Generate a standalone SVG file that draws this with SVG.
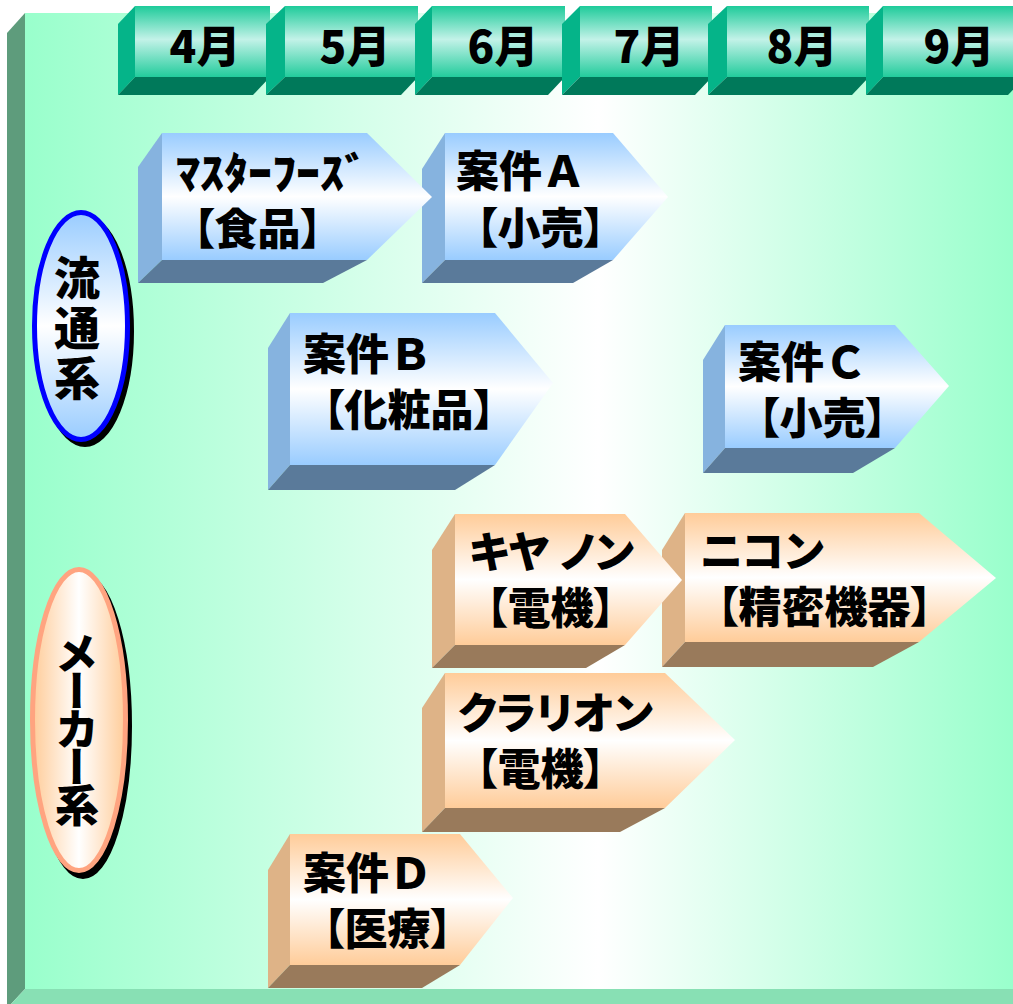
<svg xmlns="http://www.w3.org/2000/svg" width="1013" height="1004" viewBox="0 0 1013 1004">
<defs>
<style>
.t{font-family:"Noto Sans CJK JP","Noto Sans CJK SC",sans-serif;font-weight:900;fill:#000;font-size:43px}
.p{font-feature-settings:"palt"}
.m{font-size:44px;text-anchor:middle}
.hf{fill:url(#gHead)}
.hl{fill:#05b489}
.hb{fill:#00795a}
.bf{fill:url(#gBlue)}
.bl{fill:#86b3df}
.bb{fill:#5a7a9a}
.of{fill:url(#gOrange)}
.ol{fill:#deb387}
.ob{fill:#997a5b}
</style>
<linearGradient id="gBg" x1="0" y1="0" x2="1" y2="0">
<stop offset="0" stop-color="#99ffcc"/>
<stop offset="0.58" stop-color="#ffffff"/>
<stop offset="1" stop-color="#99ffcc"/>
</linearGradient>
<linearGradient id="gHead" x1="0" y1="0" x2="0" y2="1">
<stop offset="0" stop-color="#1ecb9a"/>
<stop offset="0.47" stop-color="#c3f2e8"/>
<stop offset="1" stop-color="#22cc9c"/>
</linearGradient>
<linearGradient id="gBlue" x1="0" y1="0" x2="0" y2="1">
<stop offset="0" stop-color="#99ccff"/>
<stop offset="0.5" stop-color="#ffffff"/>
<stop offset="1" stop-color="#99ccff"/>
</linearGradient>
<linearGradient id="gOrange" x1="0" y1="0" x2="0" y2="1">
<stop offset="0" stop-color="#ffcc99"/>
<stop offset="0.5" stop-color="#ffffff"/>
<stop offset="1" stop-color="#ffcc99"/>
</linearGradient>
<linearGradient id="gEllB" x1="0" y1="0" x2="0" y2="1">
<stop offset="0" stop-color="#99ccff"/>
<stop offset="0.5" stop-color="#ffffff"/>
<stop offset="1" stop-color="#99ccff"/>
</linearGradient>
<linearGradient id="gEllO" x1="0" y1="0" x2="1" y2="0">
<stop offset="0" stop-color="#ffcc99"/>
<stop offset="0.5" stop-color="#ffffff"/>
<stop offset="1" stop-color="#ffcc99"/>
</linearGradient>
</defs>

<g id="background">
<rect x="25" y="13" width="988" height="976" fill="url(#gBg)"/>
<polygon points="7,33 25,13 25,989 11,1004 7,1004" fill="#5e9c7c"/>
<polygon points="25,989 1013,989 1013,1004 11,1004" fill="#88e0b4"/>
</g>

<g id="header">
<g id="m4">
<polygon class="hf" points="135,6 270,6 270,77 135,77"/>
<polygon class="hl" points="118,24 135,6 135,77 118,95"/>
<polygon class="hb" points="135,77 270,77 253,95 118,95"/>
<text class="t m" x="205" y="63">4月</text>
</g>
<g id="m5">
<polygon class="hf" points="285,6 418,6 418,77 285,77"/>
<polygon class="hl" points="266,24 285,6 285,77 266,95"/>
<polygon class="hb" points="285,77 418,77 401,95 266,95"/>
<text class="t m" x="355" y="63">5月</text>
</g>
<g id="m6">
<polygon class="hf" points="432,6 565,6 565,77 432,77"/>
<polygon class="hl" points="415,24 432,6 432,77 415,95"/>
<polygon class="hb" points="432,77 565,77 548,95 415,95"/>
<text class="t m" x="503" y="63">6月</text>
</g>
<g id="m7">
<polygon class="hf" points="580,6 712,6 712,77 580,77"/>
<polygon class="hl" points="562,24 580,6 580,77 562,95"/>
<polygon class="hb" points="580,77 712,77 695,95 562,95"/>
<text class="t m" x="649" y="63">7月</text>
</g>
<g id="m8">
<polygon class="hf" points="727,6 869,6 869,77 727,77"/>
<polygon class="hl" points="708,24 727,6 727,77 708,95"/>
<polygon class="hb" points="727,77 869,77 852,95 708,95"/>
<text class="t m" x="802" y="63">8月</text>
</g>
<g id="m9">
<polygon class="hf" points="883,6 1025,6 1025,77 883,77"/>
<polygon class="hl" points="866,24 883,6 883,77 866,95"/>
<polygon class="hb" points="883,77 1025,77 1008,95 866,95"/>
<text class="t m" x="959" y="63">9月</text>
</g>
</g>

<g id="label-ryutsu">
<ellipse cx="85" cy="331" rx="46.5" ry="113.5" fill="#000" stroke="#000" stroke-width="5"/>
<ellipse cx="81" cy="326" rx="46.5" ry="113.5" fill="url(#gEllB)" stroke="#0000ff" stroke-width="5"/>
<text class="t" x="77" y="330" style="writing-mode:vertical-rl;text-anchor:middle;font-size:46px;letter-spacing:4px">流通系</text>
</g>

<g id="label-maker">
<ellipse cx="83" cy="726" rx="46.5" ry="150.5" fill="#000" stroke="#000" stroke-width="5"/>
<ellipse cx="79" cy="720" rx="46.5" ry="150.5" fill="url(#gEllO)" stroke="#ffa480" stroke-width="5"/>
<text class="t" x="77" y="726" style="writing-mode:vertical-rl;text-anchor:middle;font-size:44px;letter-spacing:-6px">メーカー系</text>
</g>

<g id="case-a">
<polygon class="bf" points="445,133 613,133 668,197 613,260 445,260"/>
<polygon class="bl" points="422,169 445,133 445,260 422,283"/>
<polygon class="bb" points="445,260 613,260 573,283 422,283"/>
<text class="t" x="456" y="187">案件Ａ</text>
<text class="t p" x="476" y="244">【小売】</text>
</g>

<g id="masterfoods">
<polygon class="bf" points="162,133 367,133 432,197 367,260 162,260"/>
<polygon class="bl" points="138,167 162,133 162,260 138,283"/>
<polygon class="bb" points="162,260 367,260 323,283 138,283"/>
<text class="t" x="176" y="189" textLength="192" lengthAdjust="spacingAndGlyphs">ﾏｽﾀｰﾌｰｽﾞ</text>
<text class="t p" x="193" y="245">【食品】</text>
</g>

<g id="case-b">
<polygon class="bf" points="290,313 495,313 553,383 495,465 290,465"/>
<polygon class="bl" points="268,348 290,313 290,465 268,490"/>
<polygon class="bb" points="290,465 495,465 455,490 268,490"/>
<text class="t" x="303" y="370">案件Ｂ</text>
<text class="t p" x="323" y="426">【化粧品】</text>
</g>

<g id="case-c">
<polygon class="bf" points="725,325 895,325 949,386 895,448 725,448"/>
<polygon class="bl" points="703,360 725,325 725,448 703,473"/>
<polygon class="bb" points="725,448 895,448 853,473 703,473"/>
<text class="t" x="738" y="378">案件Ｃ</text>
<text class="t p" x="758" y="434">【小売】</text>
</g>

<g id="nikon">
<polygon class="of" points="685,513 919,513 996,578 919,642 685,642"/>
<polygon class="ol" points="662,550 685,513 685,642 662,667"/>
<polygon class="ob" points="685,642 919,642 873,667 662,667"/>
<text class="t p" x="700" y="567">ニコン</text>
<text class="t p" x="717" y="623">【精密機器】</text>
</g>

<g id="canon">
<polygon class="of" points="455,514 625,514 682,580 625,645 455,645"/>
<polygon class="ol" points="432,550 455,514 455,645 432,668"/>
<polygon class="ob" points="455,645 625,645 586,668 432,668"/>
<text class="t p" x="469" y="568">キヤ<tspan dx="14">ノン</tspan></text>
<text class="t p" x="486" y="624">【電機】</text>
</g>

<g id="clarion">
<polygon class="of" points="445,673 665,673 735,740 665,808 445,808"/>
<polygon class="ol" points="422,708 445,673 445,808 422,832"/>
<polygon class="ob" points="445,808 665,808 620,832 422,832"/>
<text class="t p" x="458" y="729">クラリオン</text>
<text class="t p" x="476" y="785">【電機】</text>
</g>

<g id="case-d">
<polygon class="of" points="290,834 460,834 513,898 460,965 290,965"/>
<polygon class="ol" points="268,870 290,834 290,965 268,988"/>
<polygon class="ob" points="290,965 460,965 422,988 268,988"/>
<text class="t" x="303" y="889">案件Ｄ</text>
<text class="t p" x="323" y="945">【医療】</text>
</g>

<g id="connectors"/>
</svg>
